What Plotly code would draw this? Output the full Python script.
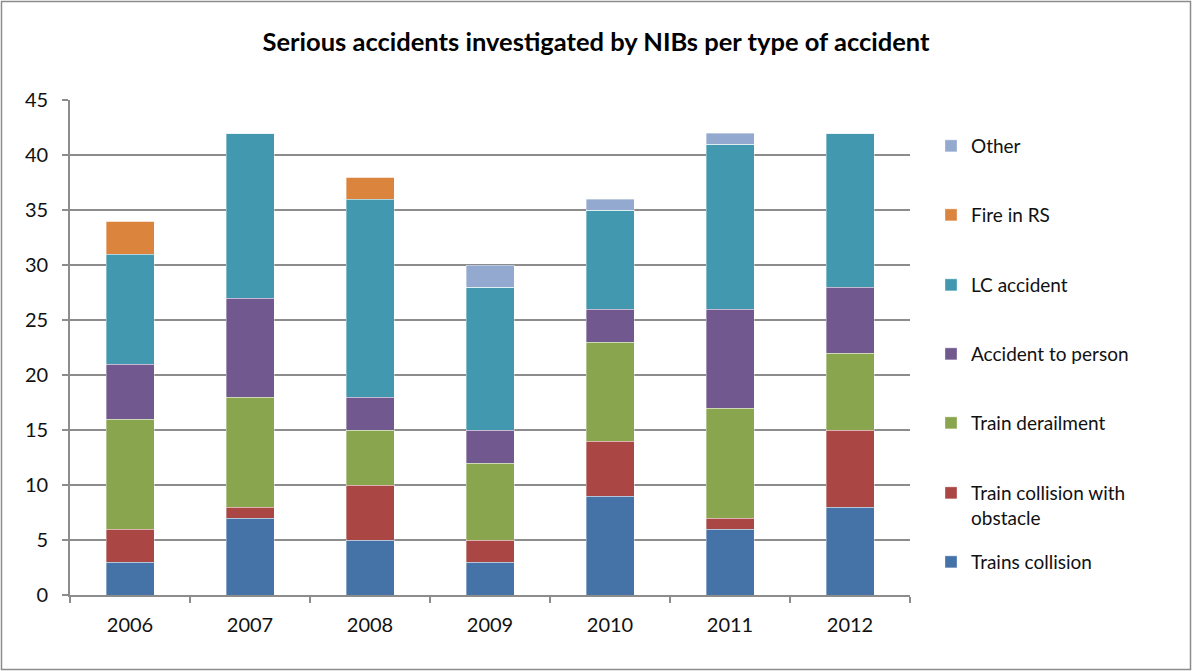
import plotly.graph_objects as go

years = ["2006", "2007", "2008", "2009", "2010", "2011", "2012"]

trains_collision = [3, 7, 5, 3, 9, 6, 8]
collision_obstacle = [3, 1, 5, 2, 5, 1, 7]
derailment = [10, 10, 5, 7, 9, 10, 7]
accident_person = [5, 9, 3, 3, 3, 9, 6]
lc_accident = [10, 15, 18, 13, 9, 15, 14]
fire_rs = [3, 0, 2, 0, 0, 0, 0]
other = [0, 0, 0, 2, 1, 1, 0]

series = [
    ("Trains collision", trains_collision, "#4572A7"),
    ("Train collision with<br>obstacle", collision_obstacle, "#AA4643"),
    ("Train derailment", derailment, "#89A54E"),
    ("Accident to person", accident_person, "#71588F"),
    ("LC accident", lc_accident, "#4198AF"),
    ("Fire in RS", fire_rs, "#DB843D"),
    ("Other", other, "#93A9CF"),
]

W, H = 1192, 671
L, R, T, B = 70, 282, 100, 76
plot_w = W - L - R
plot_h = H - T - B

# legend rows (pixel y of each entry's first text line), bottom to top
legend_rows = [562, 493, 423, 354, 285, 215, 146]

font = "Lato, 'Open Sans', sans-serif"
grid = "#8c8c8c"
fig = go.Figure()
legend_layout = {}
for i, (name, vals, color) in enumerate(series):
    key = "legend" if i == 0 else f"legend{i + 1}"
    fig.add_trace(go.Bar(
        x=years, y=vals, name=name,
        marker=dict(color=color, line=dict(color="rgba(255,255,255,0.6)", width=0.6)),
        legend=key,
        showlegend=True,
    ))
    py = legend_rows[i]
    legend_layout[key] = dict(
        x=(931 - L) / plot_w,
        y=(H - B - py + 19) / plot_h,
        xanchor="left", yanchor="top",
        bgcolor="rgba(0,0,0,0)",
        font=dict(family=font, size=19, color="#111111"),
        itemwidth=30,
        valign="top",
    )

fig.update_layout(
    width=W, height=H,
    margin=dict(l=L, r=R, t=T, b=B),
    barmode="stack",
    bargap=0.6,
    showlegend=True,
    paper_bgcolor="white",
    plot_bgcolor="white",
    font=dict(family=font, size=19, color="#111111"),
    title=dict(
        text="<b>Serious accidents investigated by NIBs per type of accident</b>",
        x=0.5, xref="container", xanchor="center",
        y=(H - 42) / H, yref="container", yanchor="middle",
        font=dict(family=font, size=25.5, color="black"),
    ),
    xaxis=dict(
        type="category",
        showline=True, linecolor=grid, linewidth=1.8,
        ticks="outside", tickson="boundaries", ticklen=6, tickcolor=grid, tickwidth=1.8,
        tickfont=dict(size=20),
        ticklabelstandoff=11,
        showgrid=False,
    ),
    yaxis=dict(
        range=[0, 45], dtick=5,
        showline=True, linecolor=grid, linewidth=1.8,
        ticks="outside", ticklen=6, tickcolor=grid, tickwidth=1.8,
        gridcolor=grid, gridwidth=1.8,
        zeroline=False,
        tickfont=dict(size=20),
        ticklabelstandoff=10,
    ),
    shapes=[dict(
        type="rect", xref="paper", yref="paper",
        x0=(1.5 - L) / plot_w, x1=(W - 1.5 - L) / plot_w,
        y0=-(B - 1.5) / plot_h, y1=1 + (T - 1.5) / plot_h,
        line=dict(color=grid, width=1.5),
    )],
    **legend_layout,
)

fig.write_html("out.html")
